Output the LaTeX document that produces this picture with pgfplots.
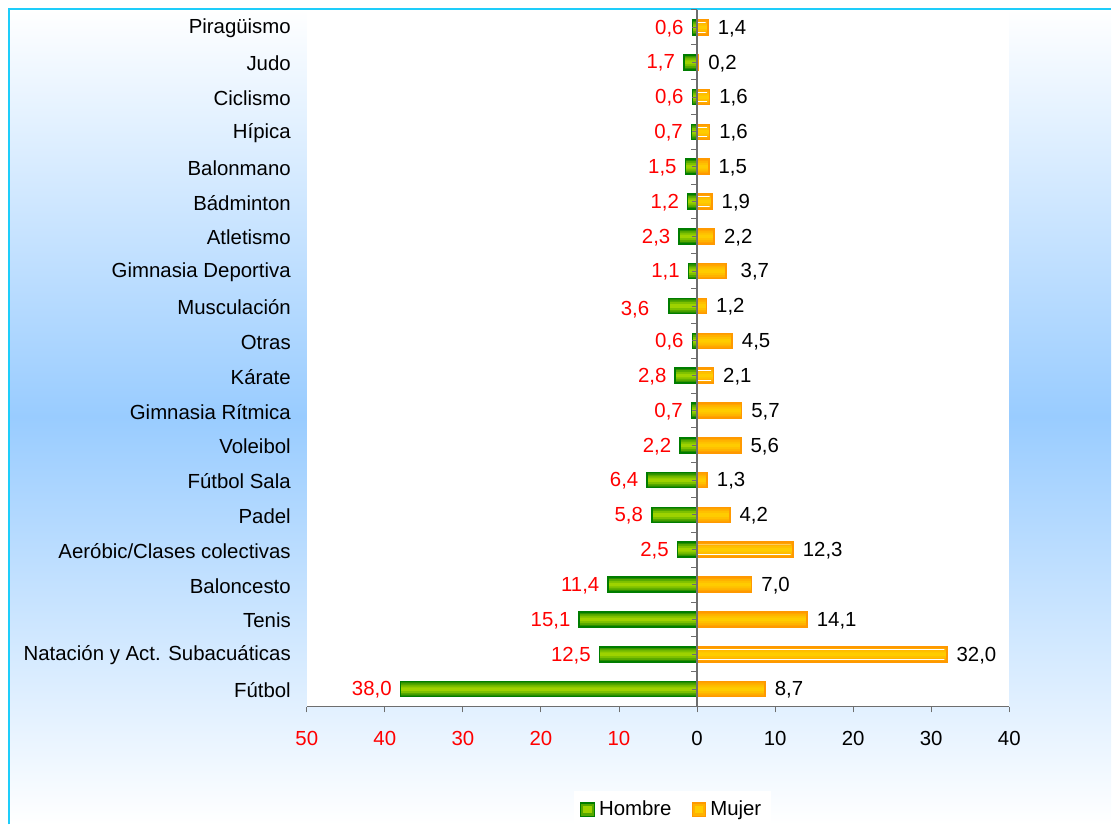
\documentclass[border=0pt]{standalone}
\usepackage{pgfplots}
\pgfplotsset{compat=1.18}
\usepackage{pgfplotstable}
\usepackage{fontspec}
\setmainfont{Liberation Sans}

\definecolor{bgblue}{RGB}{153,204,255}
\definecolor{frame}{RGB}{30,205,250}
\definecolor{gline}{RGB}{0,125,0}
\definecolor{g1}{RGB}{40,140,0}
\definecolor{g2}{RGB}{85,168,0}
\definecolor{g3}{RGB}{125,192,0}
\definecolor{g4}{RGB}{158,210,0}
\definecolor{oline}{RGB}{255,153,0}
\definecolor{o1}{RGB}{255,162,0}
\definecolor{o2}{RGB}{255,178,0}
\definecolor{o3}{RGB}{255,192,0}
\definecolor{o4}{RGB}{255,204,0}
\definecolor{axgray}{RGB}{110,110,110}

\newcommand\f{\fontsize{10.2pt}{12pt}\selectfont}

% y = posicion (0 = abajo)
\pgfplotstableread[col sep=comma]{
y,name,h,m
0,Fútbol,38.0,8.7
1,Natación y Act. Subacuáticas,12.5,32.0
2,Tenis,15.1,14.1
3,Baloncesto,11.4,7.0
4,Aeróbic/Clases colectivas,2.5,12.3
5,Padel,5.8,4.2
6,Fútbol Sala,6.4,1.3
7,Voleibol,2.2,5.6
8,Gimnasia Rítmica,0.7,5.7
9,Kárate,2.8,2.1
10,Otras,0.6,4.5
11,Musculación,3.6,1.2
12,Gimnasia Deportiva,1.1,3.7
13,Atletismo,2.3,2.2
14,Bádminton,1.2,1.9
15,Balonmano,1.5,1.5
16,Hípica,0.7,1.6
17,Ciclismo,0.6,1.6
18,Judo,1.7,0.2
19,Piragüismo,0.6,1.4
}\datos

% rayas blancas dentro de algunas barras de Mujer
\pgfplotstableread[col sep=comma]{
y,s
1,31.7
4,12.0
9,1.8
14,1.6
16,1.3
17,1.3
19,1.1
}\rayas

% capa de relleno para imitar el degradado de las barras
\newcommand\capa[3]{\addplot[forget plot, draw=none, fill=#1, bar width=#2]
  table[x expr={#3}, y=y] {\datos};}

\begin{document}
\begin{tikzpicture}
\fill[white] (0,0) rectangle (556pt,412.5pt);
\shade[top color=white, bottom color=white, middle color=bgblue]
  (4.5pt,0) rectangle (556pt,408pt);
\draw[frame, line width=0.8pt] (4.5pt,0) -- (4.5pt,408pt) -- (556pt,408pt);

\begin{axis}[
    at={(153.5pt,59pt)}, anchor=south west,
    scale only axis,
    width=351.5pt, height=348.5pt,
    xmin=-50, xmax=40, ymin=-0.5, ymax=19.5,
    axis background/.style={fill=white},
    axis x line*=bottom, axis y line*=left,
    x axis line style={axgray, line width=0.5pt, -},
    y axis line style={draw=none},
    xtick style={axgray, line width=0.5pt},
    ytick style={draw=none},
    tick align=outside, major tick length=3pt,
    xtick={-50,-40,...,40},
    xticklabels={\textcolor{red}{50},\textcolor{red}{40},\textcolor{red}{30},
      \textcolor{red}{20},\textcolor{red}{10},0,10,20,30,40},
    xticklabel style={font=\f, yshift=-6pt},
    ytick={0,...,19},
    yticklabels from table={\datos}{name},
    yticklabel style={font=\f, anchor=east, xshift=-1.5pt, yshift=-0.6pt},
    /pgf/number format/.cd, fixed, fixed zerofill, precision=1, use comma,
    assume math mode=true,
    /pgfplots/.cd,
    xbar, bar width=7.5pt, bar shift=0pt,
    legend style={at={(0.521,-0.1205)}, anchor=north, legend columns=2,
      draw=none, fill=white, font=\f, inner xsep=3pt, inner ysep=3pt,
      /tikz/every even column/.append style={column sep=8pt}},
    legend cell align=left,
  ]

  % Hombre
  \capa{g1}{7.5pt}{-\thisrow{h}}
  \capa{g2}{5.6pt}{-\thisrow{h}}
  \capa{g3}{3.8pt}{-\thisrow{h}}
  \capa{g4}{1.8pt}{-\thisrow{h}}
  \addplot[forget plot, draw=gline, fill=none, line width=0.8pt,
    point meta=explicit,
    nodes near coords, nodes near coords align={anchor=east},
    nodes near coords style={red, font=\f, inner sep=4pt, yshift=-0.5pt},
    coordinate style/.condition={\coordindex==11}{xshift=-5.5pt, yshift=-1.5pt}]
    table[x expr={-\thisrow{h}}, y=y, meta=h] {\datos};

  % Mujer
  \capa{o1}{7.5pt}{\thisrow{m}}
  \capa{o2}{5.6pt}{\thisrow{m}}
  \capa{o3}{3.8pt}{\thisrow{m}}
  \capa{o4}{1.8pt}{\thisrow{m}}
  \addplot[forget plot, draw=white, line width=0.5pt, bar width=0pt, bar shift=2.4pt]
    table[x=s, y=y] {\rayas};
  \addplot[forget plot, draw=white, line width=0.5pt, bar width=0pt, bar shift=-2.4pt]
    table[x=s, y=y] {\rayas};
  \addplot[forget plot, draw=oline, fill=none, line width=0.8pt,
    point meta=explicit,
    nodes near coords, nodes near coords align={anchor=west},
    nodes near coords style={black, font=\f, inner sep=4.5pt, yshift=-0.5pt},
    coordinate style/.condition={\coordindex==12}{xshift=2.5pt}]
    table[x=m, y=y, meta=m] {\datos};

  % leyenda
  \addlegendimage{legend image code/.code={
    \draw[draw=gline, fill=g2, line width=0.6pt] (0pt,-3.4pt) rectangle (6.8pt,3.4pt);
    \fill[g4] (1.5pt,-1.5pt) rectangle (5.3pt,1.5pt);}}
  \addlegendentry{Hombre}
  \addlegendimage{legend image code/.code={
    \draw[draw=oline, fill=o2, line width=0.6pt] (0pt,-3.4pt) rectangle (6.8pt,3.4pt);
    \fill[o4] (1.5pt,-1.5pt) rectangle (5.3pt,1.5pt);}}
  \addlegendentry{Mujer}

  % eje vertical en cero
  \draw[axgray, line width=0.6pt] (axis cs:0,-0.5) -- (axis cs:0,19.5);
  \pgfplotsinvokeforeach{-0.5,0.5,...,19.5}{
    \draw[axgray, line width=0.5pt] (axis cs:0,#1) -- ([xshift=-3pt]axis cs:0,#1);}
  \pgfplotsinvokeforeach{0,...,19}{
    \draw[axgray, line width=0.5pt] (axis cs:0,#1) -- ([xshift=-2.5pt]axis cs:0,#1);}
\end{axis}
\end{tikzpicture}
\end{document}
